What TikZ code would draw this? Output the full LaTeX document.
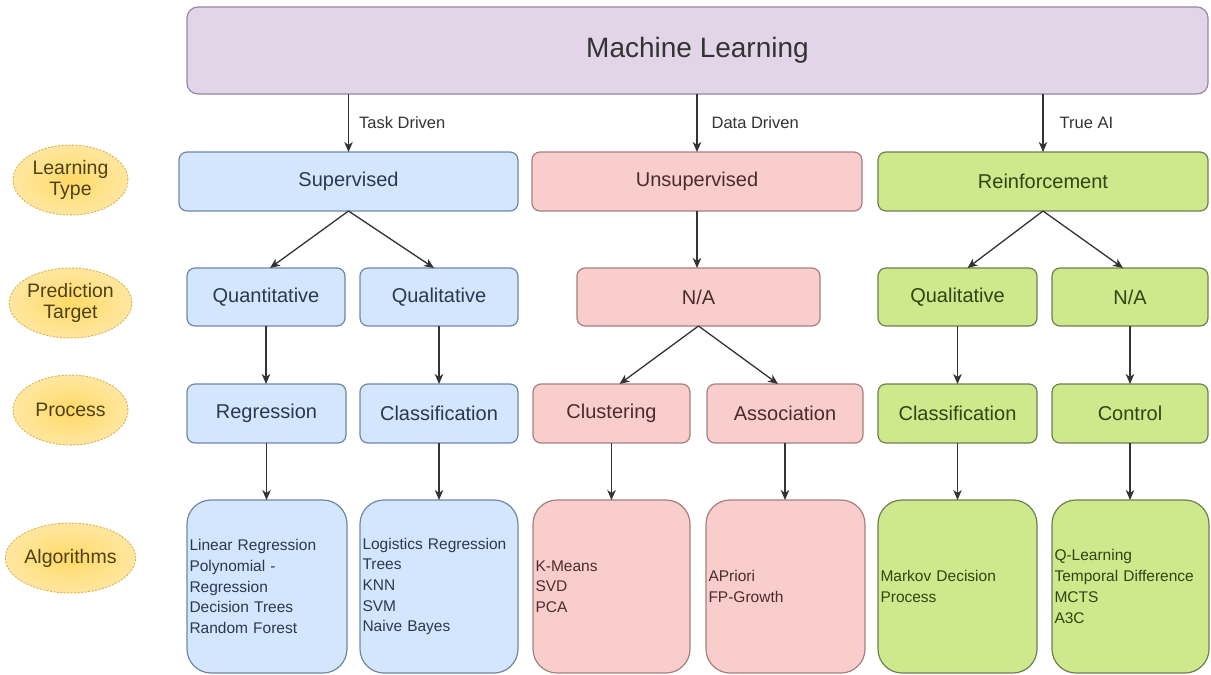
\documentclass[tikz,border=0pt]{standalone}
\usepackage{fontspec}
\setmainfont{Liberation Sans}
\usetikzlibrary{arrows.meta,shapes.geometric}

\definecolor{mlfill}{HTML}{E1D5E7}
\definecolor{mldraw}{HTML}{9A86A6}
\definecolor{bluefill}{HTML}{D4E6FB}
\definecolor{bluedraw}{HTML}{6E87A8}
\definecolor{bluetext}{HTML}{2A3950}
\definecolor{pinkfill}{HTML}{F9CDCB}
\definecolor{pinkdraw}{HTML}{A67F7E}
\definecolor{pinktext}{HTML}{4A2C2C}
\definecolor{greenfill}{HTML}{CDE98C}
\definecolor{greendraw}{HTML}{6F7F52}
\definecolor{greentext}{HTML}{2E4514}
\definecolor{ovalfill}{HTML}{FFD966}
\definecolor{ovaledge}{HTML}{FFE7A0}
\definecolor{ovaldraw}{HTML}{DDB653}
\definecolor{ovaltext}{HTML}{4F4116}
\definecolor{arrowcol}{HTML}{333333}

\begin{document}
\begin{tikzpicture}[x=1pt,y=-1pt,
  box/.style={draw, rounded corners=8pt, line width=1.2pt, inner sep=0pt, outer sep=0pt,
    font=\fontsize{20}{24}\selectfont},
  bluebox/.style={box, fill=bluefill, draw=bluedraw, text=bluetext},
  pinkbox/.style={box, fill=pinkfill, draw=pinkdraw, text=pinktext},
  greenbox/.style={box, fill=greenfill, draw=greendraw, text=greentext},
  algo/.style={rounded corners=24pt, minimum height=173pt, align=left, inner xsep=2.5pt,
    font=\fontsize{15.5}{20.7}\selectfont},
  oval/.style={ellipse, draw=ovaldraw, dash pattern=on 2pt off 1.5pt, line width=1pt,
    inner color=ovalfill, outer color=ovaledge, minimum width=115pt, minimum height=70pt,
    inner sep=0pt, align=center, text=ovaltext, font=\fontsize{19.5}{21}\selectfont},
  conn/.style={draw=arrowcol, line width=1.3pt,
    -{Stealth[length=10pt,width=8.5pt,inset=3pt]}},
  lbl/.style={text=arrowcol, inner sep=0pt, anchor=west, font=\fontsize{16.5}{18}\selectfont}
]
\useasboundingbox (0,0) rectangle (1211,675);

% top box
\node[box, fill=mlfill, draw=mldraw, rounded corners=11pt, text=arrowcol,
  minimum width=1021pt, minimum height=87pt, font=\fontsize{28}{32}\selectfont]
  (ml) at (697.5,50.5) {Machine Learning};

% row labels on the left
\node[oval] (ltype) at (70.5,180) {Learning\\Type};
\node[oval] (ptarget) at (70.5,303) {Prediction\\Target};
\node[oval] (proc) at (70.5,410) {Process};
\node[oval] (algs) at (70.5,558) {Algorithms};

% learning types
\node[bluebox, minimum width=339pt, minimum height=59pt] (sup) at (348.5,181.5) {Supervised};
\node[pinkbox, minimum width=330pt, minimum height=59pt] (uns) at (697,181.5) {Unsupervised};
\node[greenbox, minimum width=330pt, minimum height=59pt] (rei) at (1043,181.5) {Reinforcement};

% prediction targets
\node[bluebox, minimum width=158pt, minimum height=58pt] (quant) at (266,297) {Quantitative};
\node[bluebox, minimum width=158pt, minimum height=58pt] (qualb) at (439,297) {Qualitative};
\node[pinkbox, minimum width=243pt, minimum height=58pt] (nap) at (698.5,297) {N/A};
\node[greenbox, minimum width=159pt, minimum height=58pt] (qualg) at (957.5,297) {Qualitative};
\node[greenbox, minimum width=156pt, minimum height=58pt] (nag) at (1130,297) {N/A};

% processes
\node[bluebox, minimum width=159pt, minimum height=59pt] (regr) at (266.5,413.5) {Regression};
\node[bluebox, minimum width=158pt, minimum height=59pt] (clsb) at (439,413.5) {Classification};
\node[pinkbox, minimum width=157pt, minimum height=59pt] (clus) at (611.5,413.5) {Clustering};
\node[pinkbox, minimum width=156pt, minimum height=59pt] (asso) at (785,413.5) {Association};
\node[greenbox, minimum width=159pt, minimum height=59pt] (clsg) at (957.5,413.5) {Classification};
\node[greenbox, minimum width=156pt, minimum height=59pt] (ctrl) at (1130,413.5) {Control};

% algorithms
\node[bluebox, algo, minimum width=160pt, text width=155pt] (algreg) at (267,586.5)
  {Linear Regression\\Polynomial -\\Regression\\Decision Trees\\Random Forest};
\node[bluebox, algo, minimum width=158pt, text width=153pt] (algclsb) at (439,586.5)
  {Logistics Regression\\Trees\\KNN\\SVM\\Naive Bayes};
\node[pinkbox, algo, minimum width=157pt, text width=152pt] (algclus) at (611.5,586.5)
  {K-Means\\SVD\\PCA};
\node[pinkbox, algo, minimum width=159pt, text width=154pt] (algasso) at (785.5,586.5)
  {APriori\\FP-Growth};
\node[greenbox, algo, minimum width=159pt, text width=154pt] (algclsg) at (957.5,586.5)
  {Markov Decision\\Process};
\node[greenbox, algo, minimum width=157pt, text width=152pt] (algctrl) at (1130.5,586.5)
  {Q-Learning\\Temporal Difference\\MCTS\\A3C};

% from the top box to the learning types
\draw[conn] (sup.north |- ml.south) -- node[lbl, xshift=10pt] {Task Driven} (sup.north);
\draw[conn] (uns.north |- ml.south) -- node[lbl, xshift=14pt] {Data Driven} (uns.north);
\draw[conn] (rei.north |- ml.south) -- node[lbl, xshift=16pt] {True AI} (rei.north);

% learning types to prediction targets
\draw[conn] (sup.south) -- ([xshift=4pt]quant.north);
\draw[conn] (sup.south) -- ([xshift=-5pt]qualb.north);
\draw[conn] (uns.south) -- (uns.south |- nap.north);
\draw[conn] (rei.south) -- ([xshift=10pt]qualg.north);
\draw[conn] (rei.south) -- ([xshift=-7pt]nag.north);

% prediction targets to processes
\draw[conn] (quant.south) -- (quant.south |- regr.north);
\draw[conn] (qualb.south) -- (qualb.south |- clsb.north);
\draw[conn] (nap.south) -- ([xshift=8pt]clus.north);
\draw[conn] (nap.south) -- ([xshift=-7pt]asso.north);
\draw[conn] (qualg.south) -- (qualg.south |- clsg.north);
\draw[conn] (nag.south) -- (nag.south |- ctrl.north);

% processes to algorithms
\draw[conn] (regr.south) -- (regr.south |- algreg.north);
\draw[conn] (clsb.south) -- (clsb.south |- algclsb.north);
\draw[conn] (clus.south) -- (clus.south |- algclus.north);
\draw[conn] (asso.south) -- (asso.south |- algasso.north);
\draw[conn] (clsg.south) -- (clsg.south |- algclsg.north);
\draw[conn] (ctrl.south) -- (ctrl.south |- algctrl.north);
\end{tikzpicture}
\end{document}
